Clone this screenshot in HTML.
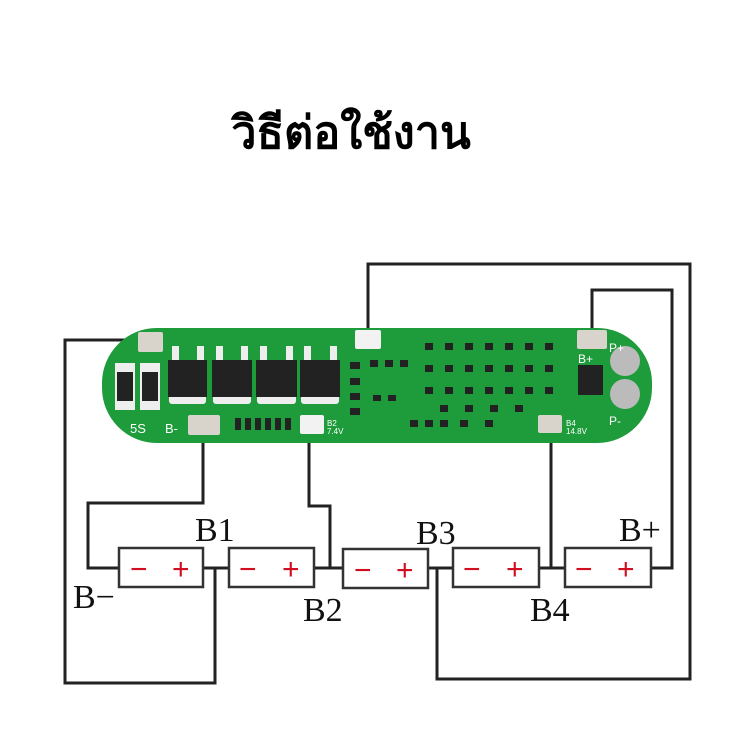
<!DOCTYPE html>
<html><head><meta charset="utf-8"><style>
html,body{margin:0;padding:0;background:#fff;}
svg{display:block}
</style></head><body>
<svg width="750" height="750" viewBox="0 0 750 750" xmlns="http://www.w3.org/2000/svg">
<rect width="750" height="750" fill="#fff"/>
<text x="351" y="148" text-anchor="middle" font-family="'Liberation Sans','Noto Sans CJK SC',sans-serif" font-weight="bold" font-size="45" fill="#000">วิธีต่อใช้งาน</text>

<g fill="none" stroke="#222" stroke-width="3">
  <polyline points="119,568 88,568 88,503 203,503 203,425"/>
  <polyline points="203,568 229,568"/>
  <polyline points="215,568 215,683 65,683 65,340 150,340"/>
  <polyline points="314,568 343,568"/>
  <polyline points="330,568 330,506 309,506 309,430"/>
  <polyline points="428,568 453,568"/>
  <polyline points="437,568 437,679 690,679 690,264 368,264 368,335"/>
  <polyline points="539,568 565,568"/>
  <polyline points="551,568 551,422"/>
  <polyline points="651,568 672,568 672,290 592,290 592,335"/>
</g>

<rect x="102" y="328" width="550" height="115" rx="55" fill="#1e9c3c"/>
<rect x="115" y="363" width="20" height="47" fill="#eee"/><rect x="117" y="372" width="16" height="29" fill="#222"/>
<rect x="140" y="363" width="20" height="47" fill="#eee"/><rect x="142" y="372" width="16" height="29" fill="#222"/>
<g fill="#eee">
<rect x="172" y="346" width="7" height="16"/><rect x="197" y="346" width="7" height="16"/>
<rect x="216" y="346" width="7" height="16"/><rect x="241" y="346" width="7" height="16"/>
<rect x="260" y="346" width="7" height="16"/><rect x="286" y="346" width="7" height="16"/>
<rect x="304" y="346" width="7" height="16"/><rect x="330" y="346" width="7" height="16"/>
<rect x="169" y="392" width="37" height="12" rx="3"/><rect x="213" y="392" width="38" height="12" rx="3"/>
<rect x="257" y="392" width="39" height="12" rx="3"/><rect x="301" y="392" width="38" height="12" rx="3"/>
</g>
<g fill="#222">
<rect x="168" y="360" width="39" height="37"/><rect x="212" y="360" width="40" height="37"/>
<rect x="256" y="360" width="41" height="37"/><rect x="300" y="360" width="40" height="37"/>
</g>
<g fill="#222">
<rect x="350" y="362" width="10" height="7"/><rect x="350" y="378" width="10" height="7"/><rect x="350" y="393" width="10" height="7"/><rect x="350" y="408" width="10" height="7"/>
<rect x="370" y="360" width="8" height="7"/><rect x="385" y="360" width="8" height="7"/><rect x="400" y="360" width="8" height="7"/>
<rect x="373" y="395" width="8" height="6"/><rect x="388" y="395" width="8" height="6"/>
<rect x="410" y="420" width="8" height="7"/><rect x="425" y="420" width="8" height="7"/><rect x="440" y="420" width="8" height="7"/><rect x="460" y="420" width="8" height="7"/><rect x="485" y="420" width="8" height="7"/>
<rect x="425" y="343" width="8" height="7"/><rect x="445" y="343" width="8" height="7"/><rect x="465" y="343" width="8" height="7"/><rect x="485" y="343" width="8" height="7"/><rect x="505" y="343" width="8" height="7"/><rect x="525" y="343" width="8" height="7"/><rect x="545" y="343" width="8" height="7"/>
<rect x="425" y="365" width="8" height="7"/><rect x="445" y="365" width="8" height="7"/><rect x="465" y="365" width="8" height="7"/><rect x="485" y="365" width="8" height="7"/><rect x="505" y="365" width="8" height="7"/><rect x="525" y="365" width="8" height="7"/><rect x="545" y="365" width="8" height="7"/>
<rect x="425" y="387" width="8" height="7"/><rect x="445" y="387" width="8" height="7"/><rect x="465" y="387" width="8" height="7"/><rect x="485" y="387" width="8" height="7"/><rect x="505" y="387" width="8" height="7"/><rect x="525" y="387" width="8" height="7"/><rect x="545" y="387" width="8" height="7"/>
<rect x="440" y="405" width="8" height="7"/><rect x="465" y="405" width="8" height="7"/><rect x="490" y="405" width="8" height="7"/><rect x="515" y="405" width="8" height="7"/>
<rect x="235" y="418" width="6" height="12"/><rect x="245" y="418" width="6" height="12"/><rect x="255" y="418" width="6" height="12"/><rect x="265" y="418" width="6" height="12"/><rect x="275" y="418" width="6" height="12"/><rect x="285" y="418" width="6" height="12"/>
<rect x="578" y="365" width="25" height="30"/>
</g>
<g fill="#d8d4cc">
<rect x="138" y="332" width="25" height="20" rx="2"/>
<rect x="188" y="415" width="32" height="20" rx="2"/>
<rect x="300" y="415" width="24" height="19" rx="2" fill="#f2f2f2"/>
<rect x="355" y="330" width="26" height="19" rx="2" fill="#f2f2f2"/>
<rect x="538" y="415" width="24" height="18" rx="2"/>
<rect x="577" y="330" width="30" height="19" rx="2"/>
</g>
<circle cx="625" cy="361" r="15" fill="#bbb"/><circle cx="625" cy="394" r="15" fill="#bbb"/>
<g font-family="'Liberation Sans',sans-serif" fill="#fff">
<text x="130" y="433" font-size="13">5S</text><text x="165" y="433" font-size="13">B-</text>
<text x="578" y="363" font-size="12">B+</text><text x="609" y="352" font-size="12">P+</text><text x="609" y="425" font-size="12">P-</text>
<text x="566" y="426" font-size="8">B4</text><text x="566" y="434" font-size="8">14.8V</text>
<text x="327" y="426" font-size="8">B2</text><text x="327" y="434" font-size="8">7.4V</text>
</g>

<g fill="#fff" stroke="#333" stroke-width="2.5">
<rect x="119" y="548" width="84" height="39"/>
<rect x="229" y="548" width="85" height="39"/>
<rect x="343" y="549" width="85" height="39"/>
<rect x="453" y="548" width="86" height="39"/>
<rect x="565" y="548" width="86" height="39"/>
</g>
<g font-family="'Liberation Sans',sans-serif" font-size="30" fill="#d01020">
<text x="130" y="579">−</text><text x="172" y="579">+</text>
<text x="239" y="579">−</text><text x="282" y="579">+</text>
<text x="354" y="580">−</text><text x="396" y="580">+</text>
<text x="463" y="579">−</text><text x="506" y="579">+</text>
<text x="575" y="579">−</text><text x="617" y="579">+</text>
</g>
<g font-family="'Liberation Serif',serif" font-size="34" fill="#111">
<text x="195" y="541">B1</text>
<text x="73" y="608">B−</text>
<text x="303" y="621">B2</text>
<text x="416" y="544">B3</text>
<text x="530" y="621">B4</text>
<text x="619" y="541">B+</text>
</g>
</svg>
</body></html>
